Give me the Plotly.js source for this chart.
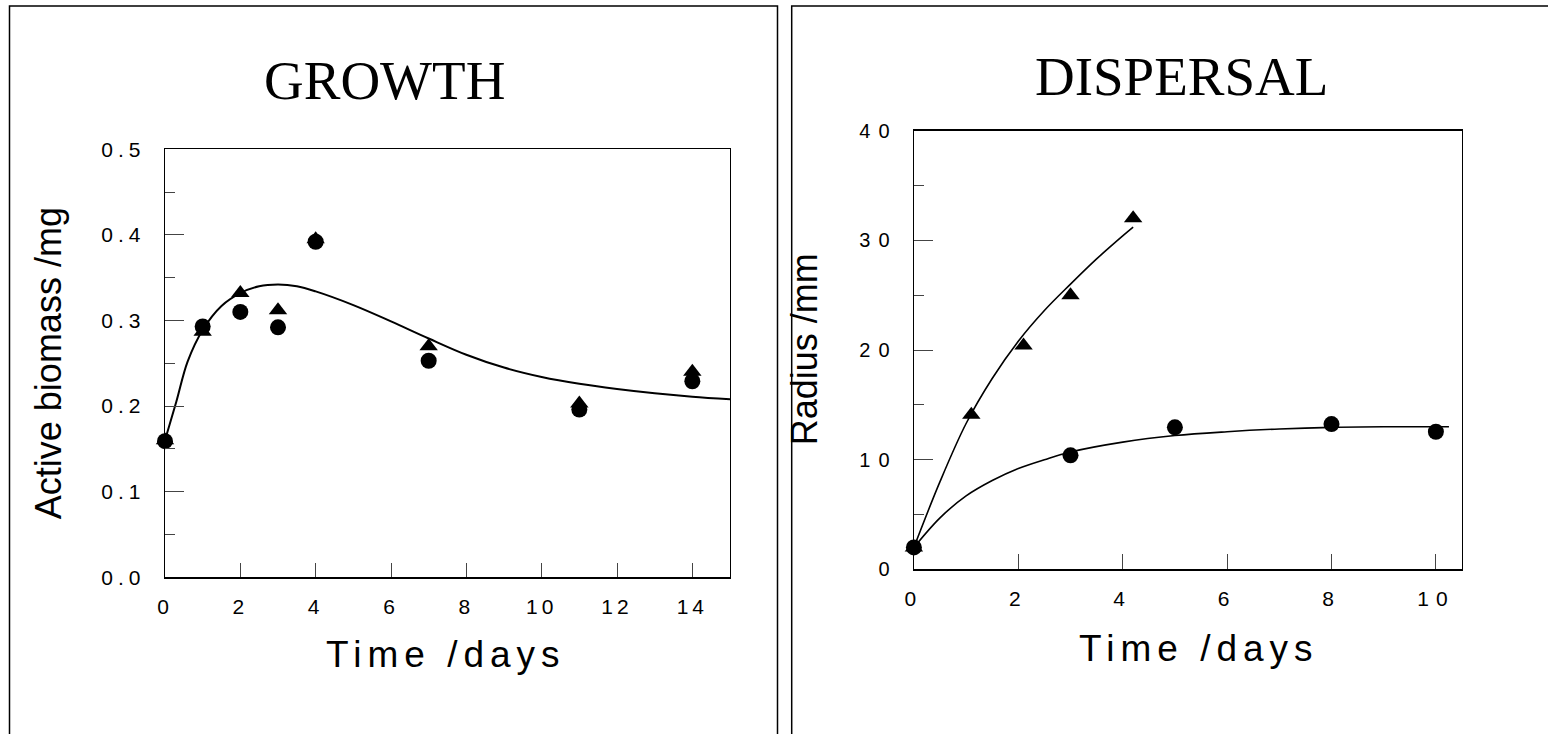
<!DOCTYPE html>
<html>
<head>
<meta charset="utf-8">
<script src="https://cdn.plot.ly/plotly-3.0.1.min.js"></script>
<style>
html,body{margin:0;padding:0;background:#fff;}
#chart{width:1548px;height:734px;}
.xtick text{letter-spacing:4px;}
.ytick text{letter-spacing:5px;}
.x2tick text{letter-spacing:7px;}
.y2tick text{letter-spacing:8px;}
</style>
</head>
<body>
<div id="chart"></div>
<script>
// ---- GROWTH panel data ----
const growthDays      = [0, 1, 2, 3, 4, 7, 11, 14];
const growthTriangles = [0.160, 0.287, 0.332, 0.312, 0.395, 0.270, 0.203, 0.240];
const growthCircles   = [0.159, 0.293, 0.310, 0.292, 0.392, 0.253, 0.196, 0.229];
const growthFitDays   = [0, 0.3, 0.6, 1, 1.5, 2, 2.5, 3, 3.5, 4, 5, 6, 7, 8, 9, 10, 11, 12, 13, 14, 15];
const growthFit       = [0.160, 0.205, 0.252, 0.289, 0.317, 0.332, 0.340, 0.342, 0.340, 0.334, 0.318, 0.299, 0.279, 0.260, 0.245, 0.234, 0.226, 0.220, 0.215, 0.211, 0.208];
const growthXTicks    = [0, 2, 4, 6, 8, 10, 12, 14];

// ---- DISPERSAL panel data ----
const dispTriDays     = [0, 1.1, 2.1, 3.0, 4.2];
const dispTriangles   = [2.0, 14.1, 20.4, 25.0, 32.0];
const dispCircDays    = [0, 3, 5, 8, 10];
const dispCircles     = [2.0, 10.4, 12.95, 13.25, 12.55];
const dispTriFitDays  = [0, 0.5, 1, 1.5, 2, 2.5, 3, 3.5, 4, 4.2];
const dispTriFit      = [2.0, 8.0, 13.3, 17.4, 20.8, 23.6, 26.0, 28.3, 30.4, 31.2];
const dispCircFitDays = [0, 0.5, 1, 1.5, 2, 2.5, 3, 4, 5, 6, 7, 8, 9, 10, 10.25];
const dispCircFit     = [2.0, 4.7, 6.7, 8.1, 9.2, 10.0, 10.7, 11.6, 12.2, 12.55, 12.8, 12.95, 13.0, 13.0, 13.0];
const dispXTicks      = [0, 2, 4, 6, 8, 10];

const W = 1548, H = 734;
const px = v => v / W;
const py = v => 1 - v / H;

const sans = 'Liberation Sans, Arial, sans-serif';
const serif = 'Liberation Serif, Times New Roman, serif';

const triMarker = {symbol: 'triangle-up', size: 16, color: '#000'};
const circMarker = {symbol: 'circle', size: 16, color: '#000'};

const traces = [
  {x: growthFitDays, y: growthFit, mode: 'lines', line: {color: '#000', width: 2, shape: 'spline'}, xaxis: 'x', yaxis: 'y', cliponaxis: false},
  {x: growthDays, y: growthTriangles, mode: 'markers', marker: triMarker, xaxis: 'x', yaxis: 'y', cliponaxis: false},
  {x: growthDays, y: growthCircles, mode: 'markers', marker: circMarker, xaxis: 'x', yaxis: 'y', cliponaxis: false},
  {x: dispTriFitDays, y: dispTriFit, mode: 'lines', line: {color: '#000', width: 1.6, shape: 'spline'}, xaxis: 'x2', yaxis: 'y2', cliponaxis: false},
  {x: dispCircFitDays, y: dispCircFit, mode: 'lines', line: {color: '#000', width: 1.6, shape: 'spline'}, xaxis: 'x2', yaxis: 'y2', cliponaxis: false},
  {x: dispTriDays, y: dispTriangles, mode: 'markers', marker: triMarker, xaxis: 'x2', yaxis: 'y2', cliponaxis: false},
  {x: dispCircDays, y: dispCircles, mode: 'markers', marker: circMarker, xaxis: 'x2', yaxis: 'y2', cliponaxis: false}
];

const common = {
  showgrid: false, zeroline: false, showline: true, linecolor: '#000', linewidth: 1.3,
  mirror: true, ticks: 'inside', tickcolor: '#444', tickwidth: 1,
  tickfont: {family: sans, size: 21, color: '#000'}, fixedrange: true
};

const layout = {
  width: W, height: H,
  margin: {l: 0, r: 0, t: 0, b: 0, pad: 0},
  paper_bgcolor: '#fff', plot_bgcolor: '#fff',
  showlegend: false,
  xaxis: Object.assign({}, common, {
    domain: [px(165), px(730)], range: [0, 15], tickvals: growthXTicks,
    ticklen: 14, anchor: 'y', ticklabelstandoff: 10
  }),
  yaxis: Object.assign({}, common, {
    domain: [py(577.3), py(149.3)], range: [0, 0.5], tick0: 0, dtick: 0.1, tickformat: '.1f',
    ticklen: 19, anchor: 'x', ticklabelstandoff: 14,
    minor: {dtick: 0.05, ticklen: 10, ticks: 'inside', tickcolor: '#444', tickwidth: 1}
  }),
  xaxis2: Object.assign({}, common, {
    domain: [px(913.9), px(1462)], range: [0, 10.5], tickvals: dispXTicks,
    ticklen: 15, anchor: 'y2', ticklabelstandoff: 10
  }),
  yaxis2: Object.assign({}, common, {
    domain: [py(569.4), py(130.6)], range: [0, 40], tick0: 0, dtick: 10,
    ticklen: 19, anchor: 'x2', ticklabelstandoff: 11,
    tickfont: {family: sans, size: 20, color: '#000'},
    minor: {dtick: 5, ticklen: 10, ticks: 'inside', tickcolor: '#444', tickwidth: 1}
  }),
  shapes: [
    {type: 'rect', xref: 'paper', yref: 'paper', x0: px(9.5), x1: px(777.5), y0: -0.2, y1: py(6), line: {color: '#000', width: 1.5}, layer: 'below'},
    {type: 'rect', xref: 'paper', yref: 'paper', x0: px(791.7), x1: 1.05, y0: -0.2, y1: py(6), line: {color: '#000', width: 1.5}, layer: 'below'}
  ],
  annotations: [
    {text: 'GROWTH', x: px(384), y: py(80.7), xref: 'paper', yref: 'paper', xanchor: 'center', yanchor: 'middle', showarrow: false, font: {family: serif, size: 55, color: '#000'}},
    {text: 'DISPERSAL', x: px(1181.7), y: py(76.4), xref: 'paper', yref: 'paper', xanchor: 'center', yanchor: 'middle', showarrow: false, font: {family: serif, size: 55, color: '#000'}},
    {text: 'Active biomass /mg', x: px(49.2), y: py(363), xref: 'paper', yref: 'paper', xanchor: 'center', yanchor: 'middle', textangle: -90, showarrow: false, font: {family: sans, size: 36, color: '#000'}},
    {text: 'Radius /mm', x: px(804.2), y: py(349), xref: 'paper', yref: 'paper', xanchor: 'center', yanchor: 'middle', textangle: -90, showarrow: false, font: {family: sans, size: 36, color: '#000'}},
    {text: 'Time /days', x: px(446), y: py(654.5), xref: 'paper', yref: 'paper', xanchor: 'center', yanchor: 'middle', showarrow: false, font: {family: sans, size: 37, color: '#000'}},
    {text: 'Time /days', x: px(1199), y: py(648.9), xref: 'paper', yref: 'paper', xanchor: 'center', yanchor: 'middle', showarrow: false, font: {family: sans, size: 37, color: '#000'}}
  ]
};

Plotly.newPlot('chart', traces, layout, {staticPlot: true, displayModeBar: false}).then(() => {
  document.querySelectorAll('.annotation-text').forEach(t => {
    if (t.textContent === 'Time /days') t.style.letterSpacing = '6px';
  });
});
</script>
</body>
</html>
